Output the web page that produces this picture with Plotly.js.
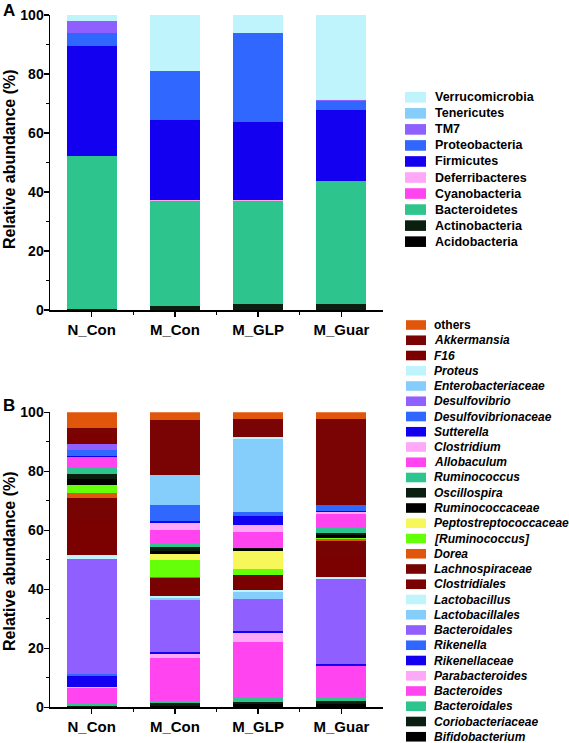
<!DOCTYPE html>
<html>
<head>
<meta charset="utf-8">
<script src="https://cdn.plot.ly/plotly-3.0.1.min.js"></script>
<style>html,body{margin:0;padding:0;background:#fff;}#chart{width:569px;height:743px;}</style>
</head>
<body>
<div id="chart"></div>
<script>
// ---------- DATA ----------
const groups = ['N_Con', 'M_Con', 'M_GLP', 'M_Guar'];

// Panel A – phyla (bottom to top of the stack)
const phyla = ['Acidobacteria', 'Actinobacteria', 'Bacteroidetes', 'Cyanobacteria', 'Deferribacteres',
               'Firmicutes', 'Proteobacteria', 'TM7', 'Tenericutes', 'Verrucomicrobia'];
const acidobacteria   = [0.1, 0.1, 0.1, 0.1];
const actinobacteria  = [0.4, 1.3, 1.8, 2.1];
const bacteroidetes   = [51.6, 35.6, 35.2, 41.5];
const cyanobacteria   = [0.1, 0.1, 0.0, 0.0];
const deferribacteres = [0.1, 0.1, 0.1, 0.0];
const firmicutes      = [37.2, 27.2, 26.5, 24.1];
const proteobacteria  = [4.3, 16.6, 30.2, 3.0];
const tm7             = [4.2, 0.0, 0.0, 0.4];
const tenericutes     = [0.0, 0.1, 0.0, 0.0];
const verrucomicrobia = [2.0, 18.9, 6.1, 28.8];

// Panel B – genera (bottom to top of the stack)
const genera = ['Bifidobacterium', 'Coriobacteriaceae', 'Bacteroidales', 'Bacteroides', 'Parabacteroides',
                'Rikenellaceae', 'Rikenella', 'Bacteroidales', 'Lactobacillales', 'Lactobacillus',
                'Clostridiales', 'Lachnospiraceae', 'Dorea', '[Ruminococcus]', 'Peptostreptococcaceae',
                'Ruminococcaceae', 'Oscillospira', 'Ruminococcus', 'Allobaculum', 'Clostridium',
                'Sutterella', 'Desulfovibrionaceae', 'Desulfovibrio', 'Enterobacteriaceae', 'Proteus',
                'F16', 'Akkermansia', 'others'];
const bifidobacterium       = [0.1, 0.6, 1.0, 1.2];
const coriobacteriaceae     = [0.2, 0.8, 0.9, 0.9];
const bacteroidalesGreen    = [0.8, 0.5, 1.1, 1.2];
const bacteroides           = [5.3, 14.7, 19.2, 10.8];
const parabacteroides       = [0.6, 1.5, 3.1, 0.0];
const rikenellaceae         = [3.6, 0.8, 0.7, 0.6];
const rikenella             = [0.7, 0.0, 0.0, 0.0];
const bacteroidalesPurple   = [38.8, 17.5, 10.6, 28.7];
const lactobacillales       = [0.0, 0.8, 2.4, 0.0];
const lactobacillus         = [1.4, 0.5, 0.8, 0.6];
const clostridiales         = [11.6, 3.7, 3.0, 7.0];
const lachnospiraceae       = [8.0, 2.5, 2.0, 5.5];
const dorea                 = [1.4, 0.4, 0.0, 0.5];
const ruminococcusBracket   = [2.9, 5.6, 2.0, 0.5];
const peptostreptococcaceae = [0.0, 2.1, 6.2, 0.0];
const ruminococcaceae       = [2.0, 1.0, 0.5, 0.9];
const oscillospira          = [1.7, 1.2, 0.4, 0.8];
const ruminococcus          = [1.9, 1.0, 0.3, 1.5];
const allobaculum           = [4.0, 4.9, 5.3, 4.7];
const clostridium           = [0.0, 2.3, 2.3, 0.7];
const sutterella            = [0.1, 0.9, 3.2, 0.4];
const desulfovibrionaceae   = [2.1, 5.3, 1.1, 2.1];
const desulfovibrio         = [2.0, 0.0, 0.0, 0.0];
const enterobacteriaceae    = [0.0, 10.1, 24.9, 0.0];
const proteus               = [0.0, 0.0, 0.5, 0.0];
const f16                   = [3.6, 0.0, 0.0, 0.0];
const akkermansia           = [2.0, 18.7, 6.2, 29.1];
const others                = [5.2, 2.6, 2.3, 2.3];

// ---------- STYLE ----------
const phylaValues = [acidobacteria, actinobacteria, bacteroidetes, cyanobacteria, deferribacteres,
                     firmicutes, proteobacteria, tm7, tenericutes, verrucomicrobia];
const phylaColors = ['#000000', '#0a1f0f', '#2dc48d', '#ff44f0', '#ffa8f8',
                     '#1400f0', '#3068ff', '#8f5fff', '#85cdfb', '#c0f4fc'];

const generaValues = [bifidobacterium, coriobacteriaceae, bacteroidalesGreen, bacteroides, parabacteroides,
                      rikenellaceae, rikenella, bacteroidalesPurple, lactobacillales, lactobacillus,
                      clostridiales, lachnospiraceae, dorea, ruminococcusBracket, peptostreptococcaceae,
                      ruminococcaceae, oscillospira, ruminococcus, allobaculum, clostridium,
                      sutterella, desulfovibrionaceae, desulfovibrio, enterobacteriaceae, proteus,
                      f16, akkermansia, others];
const generaColors = ['#000000', '#0a1f0f', '#2dc48d', '#ff44f0', '#ffa8f8',
                      '#1400f0', '#3068ff', '#8f5fff', '#85cdfb', '#c0f4fc',
                      '#7b0000', '#780303', '#e0560a', '#66ff0a', '#f7f75a',
                      '#000000', '#0a1f0f', '#2dc48d', '#ff44f0', '#ffa8f8',
                      '#1400f0', '#3068ff', '#8f5fff', '#85cdfb', '#c0f4fc',
                      '#7d0000', '#7a0404', '#e0560a'];

const W = 569, H = 743;
const fx = x => x / W;
const fy = y => 1 - y / H;
const FONT = 'Liberation Sans, Arial, sans-serif';
const xIdx = groups.map((g, i) => i);

const traces = [];
phyla.forEach((name, k) => {
  traces.push({
    type: 'bar', name: name, x: xIdx, y: phylaValues[k], xaxis: 'x', yaxis: 'y',
    marker: {color: phylaColors[k], line: {width: 0}}, width: 0.6, showlegend: false, hoverinfo: 'name+y'
  });
});
genera.forEach((name, k) => {
  traces.push({
    type: 'bar', name: name, x: xIdx, y: generaValues[k], xaxis: 'x2', yaxis: 'y2',
    marker: {color: generaColors[k], line: {width: 0}}, width: 0.6, showlegend: false, hoverinfo: 'name+y'
  });
});

function xAxis(anchor) {
  return {
    anchor: anchor, domain: [fx(50), fx(383)], range: [-0.5, 3.5], type: 'linear',
    showline: true, linecolor: '#000', linewidth: 1.5, showgrid: false, zeroline: false,
    ticks: 'outside', ticklen: 5, tickwidth: 1.5, tickcolor: '#000',
    tickmode: 'array', tickvals: xIdx, ticktext: groups,
    tickfont: {family: FONT, size: 15, color: '#000', weight: 'bold'},
    minor: {tickmode: 'array', tickvals: [0.5, 1.5, 2.5], ticks: 'outside', ticklen: 3, tickwidth: 1.2, tickcolor: '#000'}
  };
}
function yAxis(anchor, top, bottom) {
  return {
    anchor: anchor, domain: [fy(bottom), fy(top)], range: [0, 100],
    showline: true, linecolor: '#000', linewidth: 1.5, showgrid: false, zeroline: false,
    ticks: 'outside', ticklen: 5, tickwidth: 1.5, tickcolor: '#000', dtick: 20, tick0: 0,
    ticklabelstandoff: -3,
    tickfont: {family: FONT, size: 14, color: '#000', weight: 'bold'},
    minor: {dtick: 10, tick0: 0, ticks: 'outside', ticklen: 3, tickwidth: 1.2, tickcolor: '#000'}
  };
}

const shapes = [];
const annotations = [];

// Legend A (top item = top of stack)
const legA = phyla.map((n, k) => ({name: n, color: phylaColors[k]})).reverse();
legA.forEach((it, i) => {
  const yc = 97.3 + i * 16.04;
  shapes.push({type: 'rect', xref: 'paper', yref: 'paper', x0: fx(405), x1: fx(426), y0: fy(yc + 5.3), y1: fy(yc - 5.3),
               fillcolor: it.color, line: {width: 0}});
  annotations.push({xref: 'paper', yref: 'paper', x: fx(433), y: fy(yc), xanchor: 'left', yanchor: 'middle',
                    showarrow: false, text: '<b>' + it.name + '</b>', font: {family: FONT, size: 12.5, color: '#000'}});
});
// Legend B
const legB = genera.map((n, k) => ({name: n, color: generaColors[k]})).reverse();
legB.forEach((it, i) => {
  const yc = 325 + i * 15.25;
  shapes.push({type: 'rect', xref: 'paper', yref: 'paper', x0: fx(406), x1: fx(426), y0: fy(yc + 4.8), y1: fy(yc - 4.8),
               fillcolor: it.color, line: {width: 0}});
  const txt = it.name === 'others' ? '<b>' + it.name + '</b>' : '<b><i>' + it.name + '</i></b>';
  annotations.push({xref: 'paper', yref: 'paper', x: fx(432), y: fy(yc), xanchor: 'left', yanchor: 'middle',
                    showarrow: false, text: txt, font: {family: FONT, size: 12, color: '#000'}});
});

// Axis titles and panel letters
annotations.push({xref: 'paper', yref: 'paper', x: fx(9), y: fy(159), xanchor: 'center', yanchor: 'middle', textangle: -90,
                  showarrow: false, text: '<b>Relative abundance (%)</b>', font: {family: FONT, size: 16, color: '#000'}});
annotations.push({xref: 'paper', yref: 'paper', x: fx(9), y: fy(561), xanchor: 'center', yanchor: 'middle', textangle: -90,
                  showarrow: false, text: '<b>Relative abundance (%)</b>', font: {family: FONT, size: 16, color: '#000'}});
annotations.push({xref: 'paper', yref: 'paper', x: fx(1), y: fy(10), xanchor: 'left', yanchor: 'middle',
                  showarrow: false, text: '<b>A</b>', font: {family: FONT, size: 17, color: '#000'}});
annotations.push({xref: 'paper', yref: 'paper', x: fx(1), y: fy(406), xanchor: 'left', yanchor: 'middle',
                  showarrow: false, text: '<b>B</b>', font: {family: FONT, size: 17, color: '#000'}});

const layout = {
  width: W, height: H, margin: {l: 0, r: 0, t: 0, b: 0},
  paper_bgcolor: '#fff', plot_bgcolor: '#fff',
  barmode: 'stack', bargap: 0.4, showlegend: false,
  font: {family: FONT, color: '#000'},
  xaxis: xAxis('y'), yaxis: yAxis('x', 15, 310),
  xaxis2: xAxis('y2'), yaxis2: yAxis('x2', 412.3, 707.3),
  shapes: shapes, annotations: annotations
};

Plotly.newPlot('chart', traces, layout, {displayModeBar: false, staticPlot: true});
</script>
</body>
</html>
